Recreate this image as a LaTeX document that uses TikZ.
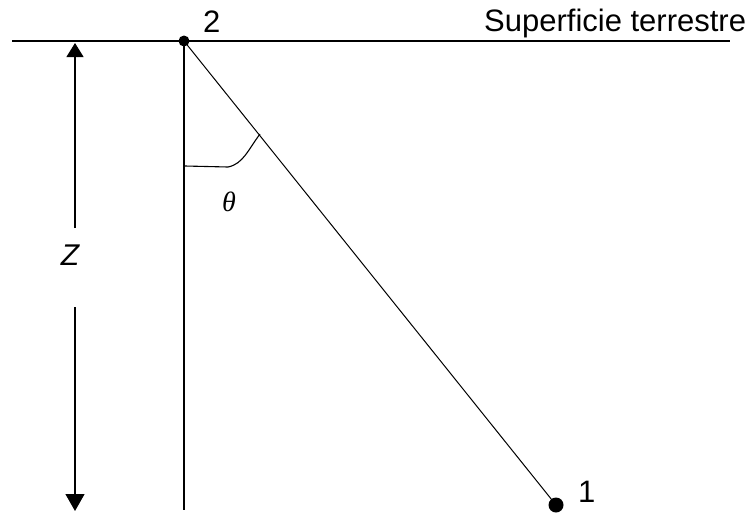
\documentclass[tikz,border=0pt]{standalone}
\usepackage{fontspec}
\setmainfont{Liberation Sans}
\newfontfamily\thetafont{Liberation Serif}
\usetikzlibrary{arrows.meta}
\begin{document}
\begin{tikzpicture}[x=1pt,y=-1pt,
  lbl/.style={font=\fontsize{31}{36}\selectfont, inner sep=0pt},
  thin line/.style={line width=1.2pt},
  dot/.style={circle, fill=black, inner sep=0pt}]
\useasboundingbox (0,0) rectangle (749,515);
% surface
\coordinate (sl) at (12,41);
\coordinate (sr) at (730,41);
\draw[thin line] (sl) -- (sr);
\node[lbl, anchor=base west] (sup) at (484,31) {Superficie terrestre};
% points
\node[dot, minimum size=11pt] (p2) at (184,41) {};
\node[dot, minimum size=15pt] (p1) at (556,505) {};
\node[lbl, anchor=base west] (l2) at (203,32) {2};
\node[lbl, anchor=base west] (l1) at (578,502) {1};
% vertical
\coordinate (vb) at (184,510);
\draw[thin line] (p2.center) -- (vb);
% slant
\draw[line width=1pt] (p2.center) -- (p1.center);
% angle
\coordinate (a1) at (185,166);
\coordinate (a2) at (260,134);
\draw[line width=1.1pt] (a1) -- (228,167) .. controls (243,164) and (248,150) .. (a2);
\node[lbl, font=\fontsize{28}{32}\thetafont\itshape] (th) at (229,202) {θ};
% Z arrow
\node[lbl, font=\fontsize{30}{34}\selectfont\itshape] (z) at (70,255) {Z};
\coordinate (zt) at (75,43);
\coordinate (zb) at (75,511);
\coordinate (zu) at (75,228);
\coordinate (zd) at (75,307);
\draw[thin line, -{Triangle[length=14pt,width=17pt]}] (zu) -- (zt);
\draw[thin line, -{Triangle[length=17pt,width=19pt]}] (zd) -- (zb);
\end{tikzpicture}
\end{document}
